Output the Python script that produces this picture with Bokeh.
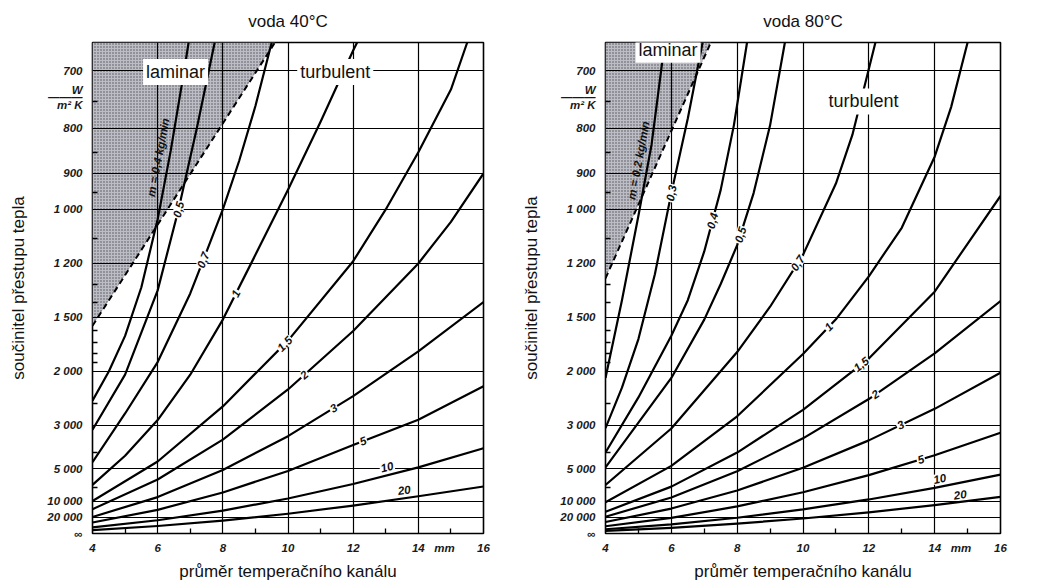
import math
from bokeh.plotting import figure
from bokeh.layouts import row
from bokeh.models import FixedTicker, Range1d, Label, LinearAxis
from bokeh.embed import file_html
from bokeh.resources import INLINE

# ---- scale -------------------------------------------------------------
# The heat-transfer coefficient is plotted on a reciprocal scale (1000/alpha),
# so that alpha = infinity sits on the bottom edge.
ALPHA_TOP = 660.0

alpha_ticks = [700, 800, 900, 1000, 1200, 1500, 2000, 3000, 5000, 10000, 20000]
alpha_tick_text = ["700", "800", "900", "1 000", "1 200", "1 500", "2 000",
                   "3 000", "5 000", "10 000", "20 000"]
alpha_minor = [750, 850, 950, 1100, 1300, 1400, 1600, 1700, 1800, 1900, 2500, 4000, 7000]
# unit written as a fraction between the 700 and 800 marks
unit_alpha = [730, 742, 756]
unit_text = ["W", "———", "m² K"]
d_ticks = [4, 6, 8, 10, 12, 14, 16]
d_grid = [6, 8, 10, 12, 14]
d_minor = [5, 7, 9, 11, 13, 15]

# ---- water 40 °C: channel diameter d [mm] -> alpha [W/m2K] per mass flow ----
names_40 = ["m = 0,4 kg/min", "0,5", "0,7", "1", "1,5", "2", "3", "5", "10", "20"]
d_40 = [
    [4, 4.5, 5, 5.5, 6, 6.4, 6.8, 6.95],
    [4, 5, 6, 6.64, 7.2, 7.75],
    [4, 5, 6, 7, 7.5, 8, 8.5, 9, 9.5],
    [4, 5, 6, 7, 8, 9, 10, 11, 12, 12.12],
    [4, 6, 8, 10, 12, 13, 14, 15, 15.5],
    [4, 6, 8, 10, 12, 14, 15, 16],
    [4, 6, 8, 10, 12, 14, 16],
    [4, 6, 8, 10, 12, 14, 16],
    [4, 6, 8, 10, 12, 14, 16],
    [4, 6, 8, 10, 12, 14, 16],
]
alpha_40 = [
    [2440, 2000, 1640, 1316, 1031, 847, 704, 660],
    [3125, 2040, 1333, 1000, 800, 660],
    [4545, 2700, 1890, 1350, 1150, 1000, 870, 758, 660],
    [6667, 4167, 2857, 2041, 1515, 1163, 943, 787, 671, 660],
    [10000, 4500, 2550, 1680, 1190, 1000, 850, 730, 660],
    [13300, 6000, 3450, 2250, 1600, 1200, 1040, 900],
    [19600, 8900, 5100, 3330, 2360, 1780, 1400],
    [29500, 13700, 7900, 5180, 3660, 2850, 2200],
    [52600, 24500, 14150, 9260, 6550, 4900, 3800],
    [93500, 43300, 25100, 16400, 11600, 8700, 6900],
]
label_d_40 = [6.35, 6.64, 7.4, 8.4, 9.9, 10.5, 11.4, 12.3, 13.1, 13.6]
label_shift_40 = [11, 0, 0, 0, 0, 0, 0, 0, 8, 8]
limit_d_40 = [4.0, 9.6]
limit_alpha_40 = [1560, 660]

# ---- water 80 °C ----
names_80 = ["m = 0,2 kg/min", "0,3", "0,4", "0,5", "0,7", "1", "1,5", "2", "3", "5", "10", "20"]
d_80 = [
    [4, 4.5, 5, 5.4, 5.8],
    [4, 4.5, 5, 5.5, 6, 6.5, 6.95],
    [4, 5, 6, 6.5, 7, 7.5, 7.9, 8.3],
    [4, 6, 7, 7.5, 8, 8.5, 9, 9.45],
    [4, 6, 8, 9, 10, 11, 11.5, 12.2],
    [4, 6, 8, 10, 11, 12, 13, 14, 14.5, 15.0],
    [4, 6, 8, 10, 12, 14, 16],
    [4, 6, 8, 10, 12, 14, 16],
    [4, 6, 8, 10, 12, 14, 16],
    [4, 6, 8, 10, 12, 14, 16],
    [4, 6, 8, 10, 12, 14, 16],
    [4, 6, 8, 10, 12, 14, 16],
]
alpha_80 = [
    [2083, 1389, 1020, 833, 660],
    [3077, 2222, 1667, 1250, 952, 781, 660],
    [4000, 2381, 1639, 1389, 1149, 943, 794, 660],
    [4900, 2083, 1515, 1299, 1124, 952, 794, 660],
    [6670, 3086, 1786, 1429, 1163, 926, 813, 660],
    [10370, 4790, 2765, 1806, 1513, 1260, 1060, 860, 760, 660],
    [14940, 6910, 4004, 2621, 1852, 1340, 960],
    [19380, 8990, 5210, 3405, 2410, 1800, 1394],
    [28110, 12990, 7530, 4930, 3480, 2600, 2016],
    [44800, 20720, 11980, 7860, 5555, 4145, 3215],
    [76700, 35500, 20600, 13440, 9520, 7100, 5510],
    [123200, 57100, 33000, 21600, 15340, 11420, 8850],
]
label_d_80 = [5.3, 6.0, 7.25, 8.1, 9.84, 10.78, 11.77, 12.2, 12.97, 13.58, 14.2, 14.8]
label_shift_80 = [10, 0, 0, 0, 0, 0, 0, 0, 0, 0, 8, 7]
limit_d_80 = [4.0, 7.2]
limit_alpha_80 = [1270, 660]

FONT = "Liberation Sans"
FRAME_H = 491


def res(a):
    return 1000.0 / a


def point_on(ds, rs, d):
    for i in range(len(ds) - 1):
        if ds[i] <= d <= ds[i + 1]:
            t = (d - ds[i]) / (ds[i + 1] - ds[i])
            slope = (rs[i + 1] - rs[i]) / (ds[i + 1] - ds[i])
            return rs[i] + t * (rs[i + 1] - rs[i]), slope
    return rs[-1], (rs[-1] - rs[-2]) / (ds[-1] - ds[-2])


def text_label(x, y, text, size, style="normal", **kw):
    return Label(x=x, y=y, text=text, text_align="center", text_baseline="middle",
                 text_font=FONT, text_font_style=style, text_font_size=size,
                 text_color="#111111", **kw)


def panel(title, width, b_left, b_right, curves_d, curves_a, names, lbl_d, lbl_shift,
          lim_d, lim_a, lam_pos, turb_pos):
    r_top = res(ALPHA_TOP)
    frame_w = width - b_left - b_right
    sx = frame_w / 12.0
    sy = FRAME_H / r_top

    p = figure(width=width, height=588, x_range=Range1d(4, 16), y_range=Range1d(0, r_top),
               output_backend="svg", toolbar_location=None,
               min_border_left=b_left, min_border_right=b_right,
               min_border_top=42, min_border_bottom=55)
    p.outline_line_color = "black"
    p.outline_line_width = 1.6
    p.background_fill_color = "white"
    p.border_fill_color = "white"

    xa = p.below[0]
    ya = p.left[0]

    # panel heading, carried by a bare axis above the frame
    head = LinearAxis(ticker=FixedTicker(ticks=[]), axis_label=title,
                      axis_line_color=None, major_tick_line_color=None,
                      minor_tick_line_color=None, major_label_text_font_size="0px",
                      axis_label_standoff=12,
                      axis_label_text_font=FONT, axis_label_text_font_size="17px",
                      axis_label_text_font_style="normal", axis_label_text_color="#111111")
    p.add_layout(head, "above")

    # x axis
    xt = d_ticks[:-1] + [14.8, 16]
    xa.ticker = FixedTicker(ticks=xt, minor_ticks=d_minor)
    xa.major_label_overrides = {14.8: "mm"}
    xa.axis_line_color = None
    xa.major_tick_in = 0
    xa.major_tick_out = 0
    xa.minor_tick_in = 5
    xa.minor_tick_out = 0
    xa.minor_tick_line_color = "black"
    xa.minor_tick_line_width = 1.3
    xa.major_label_standoff = 8
    xa.axis_label = "průměr temperačního kanálu"
    xa.axis_label_standoff = 5

    # y axis on the reciprocal scale
    yt = [0.0] + [res(a) for a in alpha_ticks] + [res(a) for a in unit_alpha]
    ya.ticker = FixedTicker(ticks=yt, minor_ticks=[res(a) for a in alpha_minor])
    over = {0.0: "∞"}
    for a, t in zip(alpha_ticks + unit_alpha, alpha_tick_text + unit_text):
        over[res(a)] = t
    ya.major_label_overrides = over
    ya.axis_line_color = None
    ya.major_tick_in = 0
    ya.major_tick_out = 0
    ya.minor_tick_in = 5
    ya.minor_tick_out = 0
    ya.minor_tick_line_color = "black"
    ya.minor_tick_line_width = 1.3
    ya.major_label_standoff = 10
    ya.axis_label = "součinitel přestupu tepla"
    ya.axis_label_standoff = 16

    for ax in (xa, ya):
        ax.major_label_text_font = FONT
        ax.major_label_text_font_style = "bold italic"
        ax.major_label_text_font_size = "11.5px"
        ax.major_label_text_color = "#1a1a1a"
        ax.axis_label_text_font = FONT
        ax.axis_label_text_font_style = "normal"
        ax.axis_label_text_font_size = "17px"
        ax.axis_label_text_color = "#111111"

    # grid
    p.xgrid.ticker = FixedTicker(ticks=d_grid)
    p.ygrid.ticker = FixedTicker(ticks=[res(a) for a in alpha_ticks])
    for g in (p.xgrid[0], p.ygrid[0]):
        g.grid_line_color = "black"
        g.grid_line_alpha = 1.0
        g.grid_line_width = 1.2
        g.level = "glyph"

    # laminar region: left edge up to the top, bounded by the dashed limit line
    lim_r = [res(a) for a in lim_a]
    st = p.patch([4, lim_d[0], lim_d[1], 4], [lim_r[0], lim_r[0], lim_r[1], lim_r[1]],
                 fill_color="#bdbdc5", line_color=None,
                 hatch_pattern="dot", hatch_color="#50505a", hatch_scale=3.0, hatch_weight=1.2)
    st.level = "underlay"
    p.line(lim_d, lim_r, line_color="black", line_width=2, line_dash="6 4")

    # mass-flow curves
    for ds, als, name, ld, sh in zip(curves_d, curves_a, names, lbl_d, lbl_shift):
        rs = [res(a) for a in als]
        p.line(ds, rs, line_color="black", line_width=2.2, line_join="round")
        r0, slope = point_on(ds, rs, ld)
        ang = math.atan2(slope * sy, sx)
        bg = None if sh > 9 else "white"
        p.add_layout(text_label(ld, r0, name, "11.5px", "bold italic", angle=ang,
                                x_offset=-math.sin(ang) * sh, y_offset=math.cos(ang) * sh,
                                background_fill_color=bg, padding=1))

    for txt, (x, y) in (("laminar", lam_pos), ("turbulent", turb_pos)):
        p.add_layout(text_label(x, res(y), txt, "18px", background_fill_color="white", padding=3))
    return p


left = panel("voda 40°C", 518, 92, 35, d_40, alpha_40, names_40, label_d_40, label_shift_40,
             limit_d_40, limit_alpha_40, (6.55, 702), (11.45, 702))
right = panel("voda 80°C", 519, 87, 37, d_80, alpha_80, names_80, label_d_80, label_shift_80,
              limit_d_80, limit_alpha_80, (5.9, 670), (11.84, 750))

page = row(left, right, spacing=0)
open("out.html", "w").write(file_html(page, INLINE))
